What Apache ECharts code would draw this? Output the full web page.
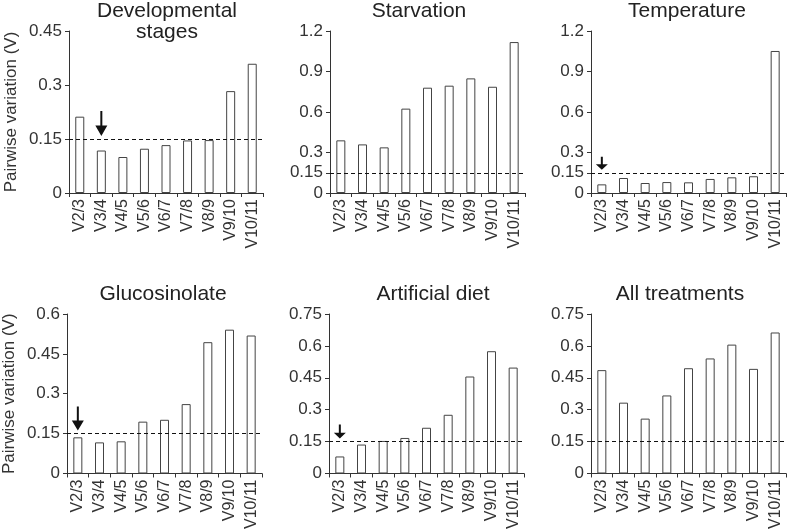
<!DOCTYPE html>
<html>
<head>
<meta charset="utf-8">
<script src="https://cdn.jsdelivr.net/npm/echarts@6/dist/echarts.min.js"></script>
<style>
html,body{margin:0;padding:0;background:#fff;}
#main{width:787px;height:532px;}
</style>
</head>
<body>
<div id="main"></div>
<script>
// categories and values
var categories = ['V2/3','V3/4','V4/5','V5/6','V6/7','V7/8','V8/9','V9/10','V10/11'];

var devStages   = [0.212, 0.118, 0.100, 0.123, 0.133, 0.146, 0.147, 0.283, 0.359];
var starvation  = [0.390, 0.360, 0.338, 0.625, 0.780, 0.795, 0.849, 0.787, 1.118];
var temperature = [0.064, 0.111, 0.074, 0.081, 0.079, 0.104, 0.116, 0.124, 1.052];
var glucosinolate = [0.136, 0.117, 0.121, 0.195, 0.202, 0.261, 0.494, 0.541, 0.519];
var artDiet     = [0.080, 0.136, 0.153, 0.167, 0.215, 0.276, 0.456, 0.575, 0.498];
var allTreat    = [0.486, 0.333, 0.258, 0.367, 0.495, 0.541, 0.606, 0.492, 0.663];

var ticks045 = [0, 0.15, 0.3, 0.45];
var ticks12  = [0, 0.15, 0.3, 0.6, 0.9, 1.2];
var ticks06  = [0, 0.15, 0.3, 0.45, 0.6];
var ticks075 = [0, 0.15, 0.3, 0.45, 0.6, 0.75];

var threshold = 0.15;
var yName = 'Pairwise variation (V)';

var panels = [
  {title:'Developmental\nstages', data:devStages, ticks:ticks045, arrow:'V3/4',
   box:{left:69, top:31, width:194, height:162}, tx:167, ty:1, arrowSize:[12,25]},
  {title:'Starvation', data:starvation, ticks:ticks12, arrow:null,
   box:{left:330, top:31, width:195, height:162}, tx:419, ty:1},
  {title:'Temperature', data:temperature, ticks:ticks12, arrow:'V2/3',
   box:{left:591, top:31, width:195, height:162}, tx:687, ty:1, arrowSize:[12,13]},
  {title:'Glucosinolate', data:glucosinolate, ticks:ticks06, arrow:'V2/3',
   box:{left:67, top:314, width:195, height:163}, tx:163, ty:284, arrowSize:[12,24]},
  {title:'Artificial diet', data:artDiet, ticks:ticks075, arrow:'V2/3',
   box:{left:329, top:314, width:195, height:163}, tx:433, ty:284, arrowSize:[12,14]},
  {title:'All treatments', data:allTreat, ticks:ticks075, arrow:null,
   box:{left:591, top:314, width:195, height:163}, tx:680, ty:284}
];

var arrowPath = 'path://M5,0 L7,0 L7,15 L12,15 L6,26 L0,15 L5,15 Z';
var font = '"Liberation Sans", Arial, sans-serif';

var grids = [], xAxes = [], yAxes = [], series = [], graphics = [];

panels.forEach(function(p, i){
  grids.push({left:p.box.left, top:p.box.top, width:p.box.width, height:p.box.height, containLabel:false});
  xAxes.push({
    type:'category', gridIndex:i, data:categories,
    axisLine:{lineStyle:{color:'#333', width:1}},
    axisTick:{show:true, length:4, interval:0, lineStyle:{color:'#333'}},
    axisLabel:{rotate:90, interval:0, margin:6, fontSize:16, color:'#333', fontFamily:font}
  });
  var y = {
    type:'value', gridIndex:i, min:0, max:p.ticks[p.ticks.length-1],
    splitLine:{show:false},
    axisLine:{show:true, lineStyle:{color:'#333', width:1}},
    axisTick:{show:true, length:4, customValues:p.ticks, lineStyle:{color:'#333'}},
    axisLabel:{customValues:p.ticks, margin:7, fontSize:17, color:'#333', fontFamily:font}
  };
  if (i % 3 === 0) {
    y.name = yName;
    y.nameLocation = 'middle';
    y.nameRotate = 90;
    y.nameGap = 49;
    y.nameTextStyle = {fontSize:17, color:'#333', fontFamily:font};
  }
  yAxes.push(y);

  var s = {
    type:'bar', xAxisIndex:i, yAxisIndex:i, data:p.data, barWidth:9,
    itemStyle:{color:'#fff', borderColor:'#444', borderWidth:1},
    silent:true,
    markLine:{
      silent:true, symbol:'none', label:{show:false},
      lineStyle:{color:'#111', type:[4,3], width:1},
      data:[{yAxis:threshold}]
    }
  };
  if (p.arrow) {
    s.markPoint = {
      silent:true,
      symbol:arrowPath,
      symbolSize:p.arrowSize,
      symbolKeepAspect:false,
      symbolOffset:[0, -(p.arrowSize[1]/2 + 3)],
      itemStyle:{color:'#111'},
      label:{show:false},
      data:[{coord:[p.arrow, threshold]}]
    };
  }
  series.push(s);

  graphics.push({
    type:'text', x:p.tx, y:p.ty,
    style:{text:p.title, align:'center', verticalAlign:'top', fontSize:21, lineHeight:21,
           fill:'#222', fontFamily:font}
  });
});

var chart = echarts.init(document.getElementById('main'));
chart.setOption({
  animation:false,
  backgroundColor:'#fff',
  grid:grids,
  xAxis:xAxes,
  yAxis:yAxes,
  series:series,
  graphic:graphics
});
</script>
</body>
</html>
